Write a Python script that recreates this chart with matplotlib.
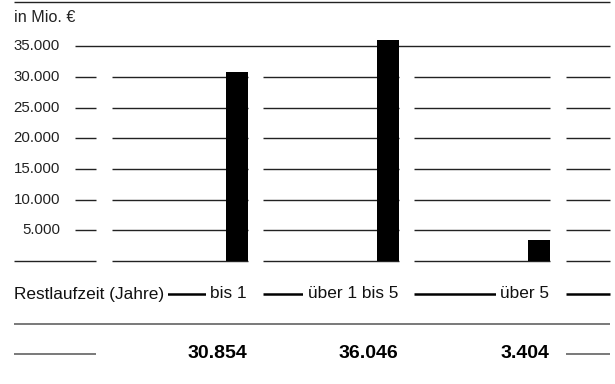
import matplotlib
matplotlib.use('Agg')
import matplotlib.pyplot as plt

plt.rcParams['font.family'] = ['Liberation Sans', 'DejaVu Sans']

# ---- data ----
unit_label = "in Mio. €"
axis_title = "Restlaufzeit (Jahre)"
categories = ["bis 1", "über 1 bis 5", "über 5"]
values = [30854, 36046, 3404]
value_labels = ["30.854", "36.046", "3.404"]
yticks = [5000, 10000, 15000, 20000, 25000, 30000, 35000]
ytick_labels = ["5.000", "10.000", "15.000", "20.000", "25.000", "30.000", "35.000"]

# ---- layout (pixels) ----
W, H = 615, 384
base_px = 261
px_per_unit = 30.7 / 5000
ymax = base_px / px_per_unit
cols = [(112, 248), (263, 399), (414, 550), (566, 610)]
bar_w = 22
grid_c = '#222222'
grid_lw = 1.0

fig = plt.figure(figsize=(W / 100, H / 100), dpi=100)

ax = fig.add_axes([0, (H - base_px) / H, 1, base_px / H])
ax.set_xlim(0, W)
ax.set_ylim(0, ymax)
ax.axis('off')

# grid lines + tick labels
for t, lab in zip(yticks, ytick_labels):
    if t == max(yticks):
        ax.hlines(t, 75, cols[-1][1], color=grid_c, lw=grid_lw)
    else:
        ax.hlines(t, 75, 96, color=grid_c, lw=grid_lw)
        for c0, c1 in cols:
            ax.hlines(t, c0, c1, color=grid_c, lw=grid_lw)
    ax.text(60, t, lab, ha='right', va='center', fontsize=10.8, color='#222222')

# baseline
ax.hlines(0, 14, 96, color=grid_c, lw=grid_lw, clip_on=False)
for c0, c1 in cols:
    ax.hlines(0, c0, c1, color=grid_c, lw=grid_lw, clip_on=False)

# bars
centers = [cols[i][1] - bar_w / 2 for i in range(len(values))]
ax.bar(centers, values, width=bar_w, color='black', zorder=3)

# ---- overlay for table rows ----
ov = fig.add_axes([0, 0, 1, 1])
ov.set_xlim(0, W)
ov.set_ylim(H, 0)
ov.axis('off')
ov.patch.set_visible(False)

ov.hlines(2, 14, cols[-1][1], color=grid_c, lw=1.0, clip_on=False)
ov.text(14, 17, unit_label, ha='left', va='center', fontsize=11.6, color='#222222')

# category row
cy = 294
for c0, c1 in cols:
    ov.hlines(cy, c0, c1, color='black', lw=1.8, zorder=1)
bb = dict(boxstyle='square,pad=0.25', fc='white', ec='none')
ov.text(14, cy, axis_title, ha='left', va='center', fontsize=12.4,
        color='#111111', bbox=bb, zorder=2)
for i, cat in enumerate(categories):
    ov.text(cols[i][1] - 1, cy, cat, ha='right', va='center', fontsize=12.4,
            color='#111111', bbox=bb, zorder=2)

# separator
ov.hlines(324, 14, cols[-1][1], color='#555555', lw=1.1)

# values row
vy = 354
ov.hlines(vy, 14, 96, color='#555555', lw=1.1)
ov.hlines(vy, cols[-1][0], cols[-1][1], color='#555555', lw=1.1)
for i, lab in enumerate(value_labels):
    ov.text(cols[i][1] - 1, vy, lab, ha='right', va='center', fontsize=14,
            fontweight='bold', color='black')

fig.savefig('out.png', dpi=100)
